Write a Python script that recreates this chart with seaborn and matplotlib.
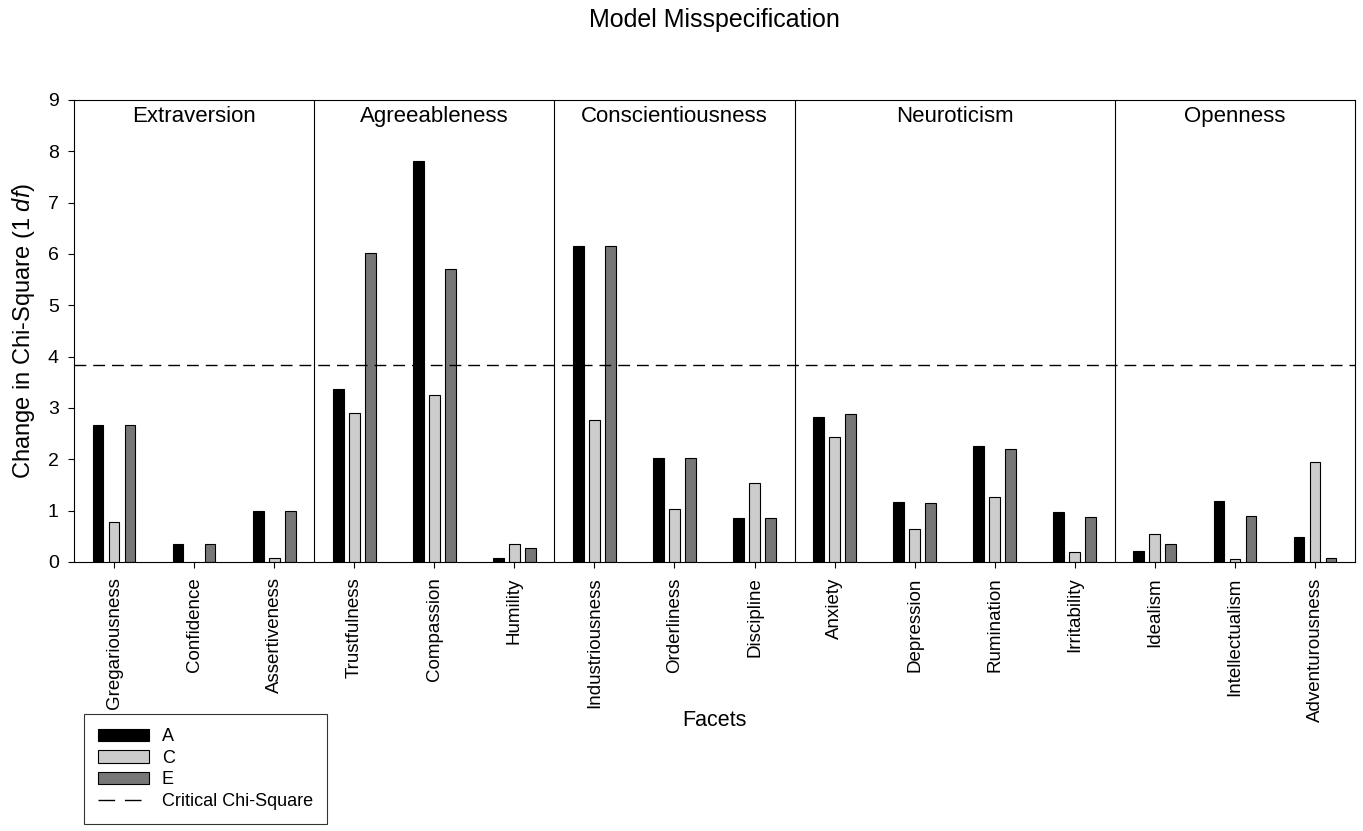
import pandas as pd
import numpy as np
import seaborn as sns
import matplotlib.pyplot as plt
from matplotlib.patches import Patch
from matplotlib.lines import Line2D

# Facets and the trait each belongs to
facets = ['Gregariousness', 'Confidence', 'Assertiveness',
          'Trustfulness', 'Compassion', 'Humility',
          'Industriousness', 'Orderliness', 'Discipline',
          'Anxiety', 'Depression', 'Rumination', 'Irritability',
          'Idealism', 'Intellectualism', 'Adventurousness']
traits = ['Extraversion', 'Agreeableness', 'Conscientiousness', 'Neuroticism', 'Openness']
trait_sizes = [3, 3, 3, 4, 3]

# Change in chi-square per model component
a_vals = [2.67, 0.36, 0.99, 3.37, 7.81, 0.07, 6.16, 2.03, 0.86,
          2.82, 1.17, 2.26, 0.97, 0.22, 1.19, 0.49]
c_vals = [0.78, 0.00, 0.08, 2.91, 3.25, 0.35, 2.77, 1.04, 1.54,
          2.43, 0.65, 1.27, 0.19, 0.55, 0.05, 1.95]
e_vals = [2.67, 0.36, 0.99, 6.02, 5.70, 0.27, 6.16, 2.03, 0.86,
          2.88, 1.15, 2.20, 0.88, 0.35, 0.90, 0.08]
critical = 3.84

df = pd.DataFrame({'Facet': facets, 'A': a_vals, 'C': c_vals, 'E': e_vals})
long = df.melt(id_vars='Facet', var_name='Component', value_name='Chi')

sns.set_style('ticks')
plt.rcParams['font.family'] = ['Liberation Sans', 'DejaVu Sans']
plt.rcParams['mathtext.fontset'] = 'custom'
plt.rcParams['mathtext.it'] = 'Liberation Sans:italic'
plt.rcParams['mathtext.rm'] = 'Liberation Sans'
plt.rcParams['text.color'] = 'black'
plt.rcParams['axes.labelcolor'] = 'black'
plt.rcParams['xtick.color'] = 'black'
plt.rcParams['ytick.color'] = 'black'

colors = {'A': '#000000', 'C': '#cccccc', 'E': '#777777'}

fig = plt.figure(figsize=(13.63, 8.31), dpi=100)
ax = fig.add_axes([74 / 1363, 1 - 562 / 831, (1355 - 74) / 1363, (562 - 100) / 831])

sns.barplot(data=long, x='Facet', y='Chi', hue='Component', order=facets,
            hue_order=['A', 'C', 'E'], palette=colors, width=0.6, gap=0.33,
            edgecolor='black', linewidth=0.8, errorbar=None, legend=False, ax=ax)

ax.axhline(critical, color='black', lw=1, dashes=(8.5, 5))

# trait dividers and labels
start = 0
for name, n in zip(traits, trait_sizes):
    end = start + n
    if end < len(facets):
        ax.axvline(end - 0.5, color='black', lw=0.8)
    ax.text((start + end - 1) / 2, 8.67, name, ha='center', va='center', fontsize=16)
    start = end

ax.set_xlim(-0.5, len(facets) - 0.5)
ax.set_ylim(0, 9)
ax.set_yticks(range(10))
ax.tick_params(axis='x', rotation=90, labelsize=13.5, length=4, width=0.8, pad=7)
ax.tick_params(axis='y', labelsize=14, length=4, width=0.8, pad=7)
for s in ax.spines.values():
    s.set_linewidth(0.8)
    s.set_color('black')

ax.set_xlabel('Facets', fontsize=15.5)
ax.xaxis.set_label_coords(0.5, (562 - 710) / 462)
ax.set_ylabel(r'Change in Chi-Square (1 $\it{df}$)', fontsize=17, labelpad=8)
fig.text(714 / 1363, 1 - 20 / 831, 'Model Misspecification', ha='center', va='center', fontsize=18)

handles = [Patch(facecolor=colors[k], edgecolor='black', linewidth=0.8) for k in ['A', 'C', 'E']]
handles.append(Line2D([0], [0], color='black', lw=1, dashes=(12, 7)))
leg = fig.legend(handles, ['A', 'C', 'E', 'Critical Chi-Square'], loc='upper left',
                 bbox_to_anchor=(84 / 1363, 1 - 714 / 831), fancybox=False,
                 edgecolor='black', fontsize=13, handlelength=2.8, borderpad=0.8,
                 labelspacing=0.25, handletextpad=0.7, borderaxespad=0)
leg.get_frame().set_linewidth(0.8)

plt.savefig('out.png', dpi=100)
